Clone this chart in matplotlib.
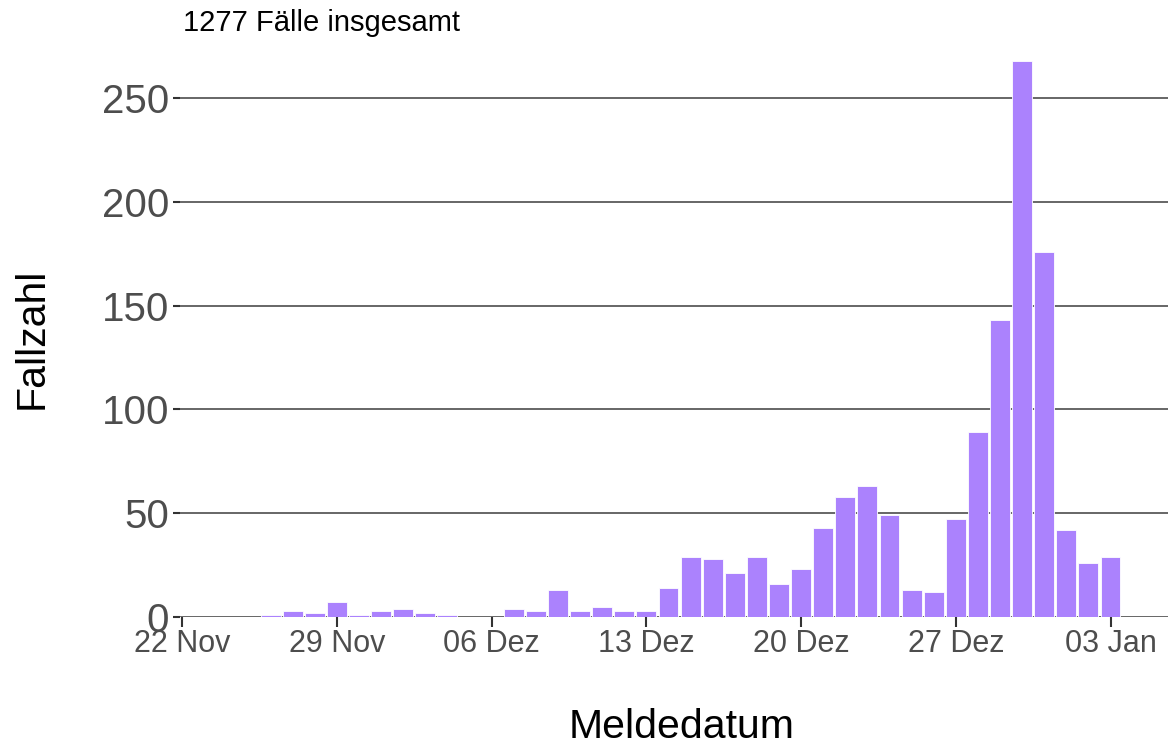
import matplotlib
matplotlib.use("Agg")
import matplotlib.pyplot as plt
import matplotlib.dates as mdates
import numpy as np
import datetime as dt

plt.rcParams['font.family'] = ['Liberation Sans', 'DejaVu Sans']

start_date = "2020-11-26"
counts = [1, 3, 2, 7, 1, 3, 4, 2, 1, 0, 0, 4, 3, 13, 3, 5, 3, 3,
          14, 29, 28, 21, 29, 16, 23, 43, 58, 63, 49, 13, 12,
          47, 89, 143, 268, 176, 42, 26, 29]
tick_dates = ["2020-11-22", "2020-11-29", "2020-12-06", "2020-12-13",
              "2020-12-20", "2020-12-27", "2021-01-03"]
tick_labels = ["22 Nov", "29 Nov", "06 Dez", "13 Dez", "20 Dez", "27 Dez", "03 Jan"]
y_ticks = [0, 50, 100, 150, 200, 250]
subtitle = "1277 Fälle insgesamt"

d0 = np.datetime64(start_date)
dates = d0 + np.arange(len(counts))
dnum = mdates.date2num(dates.astype('datetime64[D]').astype(dt.datetime))
tnum = mdates.date2num([dt.datetime.strptime(s, "%Y-%m-%d") for s in tick_dates])

fig = plt.figure(figsize=(11.68, 7.44), dpi=100)
ax = fig.add_axes([180/1168, (744-617)/744, 1 - 180/1168, (617-33.6)/744])

ax.set_axisbelow(True)
for yv in y_ticks:
    ax.axhline(yv, color='#666666', lw=1.4, zorder=0)
ax.bar(dnum, counts, width=0.9, color='#ab82fd', edgecolor='white', linewidth=0.6, zorder=2)

ax.set_xlim(tnum[0] - 0.1, tnum[0] + 44.6)
ax.set_ylim(0, 281)
ax.set_xticks(tnum)
ax.set_xticklabels(tick_labels)
ax.set_yticks(y_ticks)
ax.set_yticklabels([str(v) for v in y_ticks])
for s in ax.spines.values():
    s.set_visible(False)
ax.tick_params(axis='x', length=7, width=1.5, color='#333333', labelsize=22,
               labelcolor='#4d4d4d', pad=2)
ax.tick_params(axis='y', length=5, width=1.5, color='#333333', labelsize=29,
               labelcolor='#4d4d4d', pad=3)

fig.text(183/1168, 1 - 31/744, subtitle, fontsize=21, color='black',
         ha='left', va='baseline')
fig.text(32/1168, 1 - 338/744, "Fallzahl", fontsize=29.5, rotation=90,
         ha='center', va='center', color='black')
fig.text(682/1168, 1 - 727/744, "Meldedatum", fontsize=29.5,
         ha='center', va='center', color='black')

fig.savefig("out.png", dpi=100)
